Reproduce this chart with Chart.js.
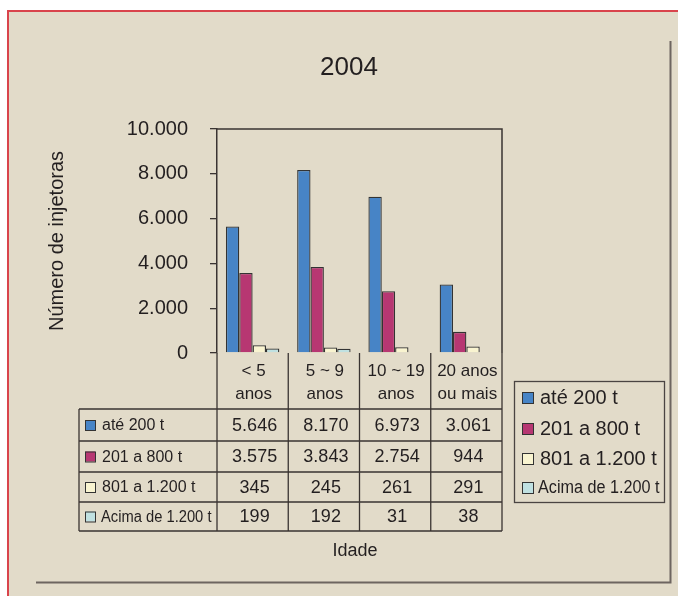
<!DOCTYPE html>
<html>
<head>
<meta charset="utf-8">
<script src="https://cdn.jsdelivr.net/npm/chart.js@4"></script>
<style>
  body{margin:0;background:#fff;}
  canvas{display:block;}
</style>
</head>
<body>
<canvas id="myChart" width="678" height="596"></canvas>
<script>
'use strict';

// data
const ageGroups=[['< 5','anos'],['5 ~ 9','anos'],['10 ~ 19','anos'],['20 anos','ou mais']];
const seriesNames=['até 200 t','201 a 800 t','801 a 1.200 t','Acima de 1.200 t'];
const upTo200=[5646,8170,6973,3061];
const from201To800=[3575,3843,2754,944];
const from801To1200=[345,245,261,291];
const above1200=[199,192,31,38];
const yTicks=[0,2000,4000,6000,8000,10000];

const seriesColors=['#4784c6','#b73772','#f9f4d0','#c0e1e1'];
const allSeries=[upTo200,from201To800,from801To1200,above1200];
const FONT='"Liberation Sans", Arial, sans-serif';
const INK='#231f20';

function fmt(n){
  return String(n).replace(/\B(?=(\d{3})+(?!\d))/g,'.');
}

// background, frame, table, legend
const decorations={
  id:'decorations',
  beforeDraw(chart){
    const ctx=chart.ctx;
    ctx.save();
    ctx.fillStyle='#fff';
    ctx.fillRect(0,0,678,596);
    ctx.fillStyle='#e2dbc9';
    ctx.fillRect(8,10,670,586);
    ctx.strokeStyle='#d9444c';
    ctx.lineWidth=2;
    ctx.beginPath();
    ctx.moveTo(8,597);ctx.lineTo(8,11);ctx.lineTo(678,11);
    ctx.stroke();
    ctx.strokeStyle='#6d6560';
    ctx.lineWidth=2;
    ctx.beginPath();
    ctx.moveTo(670.5,41);ctx.lineTo(670.5,582.5);ctx.lineTo(36,582.5);
    ctx.stroke();

    ctx.fillStyle=INK;
    ctx.font='26px '+FONT;
    ctx.textAlign='center';
    ctx.textBaseline='middle';
    ctx.fillText('2004',349,68);
    ctx.restore();
  },
  afterDraw(chart){
    const ctx=chart.ctx;
    const area=chart.chartArea;
    const x=chart.scales.x;
    ctx.save();
    ctx.strokeStyle='#3a3432';
    ctx.lineWidth=1.5;
    // plot frame top/right
    ctx.beginPath();
    ctx.moveTo(area.left,area.top);ctx.lineTo(area.right,area.top);ctx.lineTo(area.right,area.bottom);
    ctx.stroke();

    // table
    const rowY=[409,441,472,502,531];
    const tableLeft=79;
    const half=(x.getPixelForValue(1)-x.getPixelForValue(0))/2;
    const edges=[area.left];
    for(let i=0;i<ageGroups.length;i++){
      edges.push(x.getPixelForValue(i)+half);
    }
    ctx.lineWidth=1.3;
    ctx.beginPath();
    for(let i=0;i<edges.length;i++){
      ctx.moveTo(edges[i],area.bottom);ctx.lineTo(edges[i],rowY[rowY.length-1]);
    }
    for(let i=0;i<rowY.length;i++){
      ctx.moveTo(tableLeft,rowY[i]);ctx.lineTo(area.right,rowY[i]);
    }
    ctx.moveTo(tableLeft,rowY[0]);ctx.lineTo(tableLeft,rowY[rowY.length-1]);
    ctx.stroke();

    ctx.fillStyle=INK;
    ctx.textAlign='center';
    ctx.textBaseline='middle';
    for(let i=0;i<ageGroups.length;i++){
      const cx=x.getPixelForValue(i);
      ctx.font='17px '+FONT;
      ctx.fillText(ageGroups[i][0],cx+1,371);
      ctx.fillText(ageGroups[i][1],cx+1,394);
      ctx.font='18px '+FONT;
      for(let s=0;s<allSeries.length;s++){
        ctx.fillText(fmt(allSeries[s][i]),cx+2,(rowY[s]+rowY[s+1])/2+1);
      }
    }
    // row labels
    ctx.textAlign='left';
    for(let s=0;s<seriesNames.length;s++){
      const cy=(rowY[s]+rowY[s+1])/2;
      ctx.fillStyle=seriesColors[s];
      ctx.fillRect(85,cy-5,10,10);
      ctx.strokeStyle='#333';
      ctx.lineWidth=1;
      ctx.strokeRect(85.5,cy-4.5,10,10);
      ctx.fillStyle=INK;
      if(s===3){
        ctx.save();
        ctx.font='16px '+FONT;
        ctx.translate(101,cy+1);
        ctx.scale(0.92,1);
        ctx.fillText(seriesNames[s],0,0);
        ctx.restore();
      }else{
        ctx.font='16px '+FONT;
        ctx.fillText(seriesNames[s],102,cy+1);
      }
    }

    // legend box
    ctx.strokeStyle='#4a4442';
    ctx.lineWidth=1.3;
    ctx.strokeRect(514.5,381.5,150,121);
    const legY=[397,428,458,487];
    for(let s=0;s<seriesNames.length;s++){
      ctx.fillStyle=seriesColors[s];
      ctx.fillRect(522,legY[s]-5,11,11);
      ctx.strokeStyle='#333';
      ctx.lineWidth=1;
      ctx.strokeRect(522.5,legY[s]-4.5,11,11);
      ctx.fillStyle=INK;
      if(s===3){
        ctx.save();
        ctx.font='18px '+FONT;
        ctx.translate(538,legY[s]+1);
        ctx.scale(0.9,1);
        ctx.fillText(seriesNames[s],0,0);
        ctx.restore();
      }else{
        ctx.font='20px '+FONT;
        ctx.fillText(seriesNames[s],540,legY[s]+1);
      }
    }

    // x axis title
    ctx.textAlign='center';
    ctx.font='18px '+FONT;
    ctx.fillText('Idade',355,551);
    ctx.restore();
  }
};

const ctx=document.getElementById('myChart').getContext('2d');
const chart=new Chart(ctx,{
  type:'bar',
  data:{
    labels:ageGroups,
    datasets:seriesNames.map(function(name,i){
      return {
        label:name,
        data:allSeries[i],
        backgroundColor:seriesColors[i],
        borderColor:'#333',
        borderWidth:1.3,
        borderSkipped:'bottom',
        categoryPercentage:0.75,
        barPercentage:1
      };
    })
  },
  options:{
    responsive:false,
    animation:false,
    layout:{padding:{left:41,top:129,right:176,bottom:243}},
    plugins:{legend:{display:false},title:{display:false},tooltip:{enabled:false}},
    scales:{
      x:{display:false},
      y:{
        min:0,
        max:10000,
        afterFit(scale){scale.width=176;},
        afterBuildTicks(scale){scale.ticks=yTicks.map(function(v){return {value:v};});},
        ticks:{
          padding:22,
          color:INK,
          font:{family:FONT,size:20},
          callback:function(v){return fmt(v);}
        },
        grid:{display:true,drawOnChartArea:false,tickLength:7,color:'#3a3432',lineWidth:1.3},
        border:{display:true,color:'#3a3432',width:1.5},
        title:{
          display:true,
          text:'Número de injetoras',
          color:INK,
          font:{family:FONT,size:20},
          padding:{top:4,bottom:4}
        }
      }
    }
  },
  plugins:[decorations]
});
</script>
</body>
</html>
